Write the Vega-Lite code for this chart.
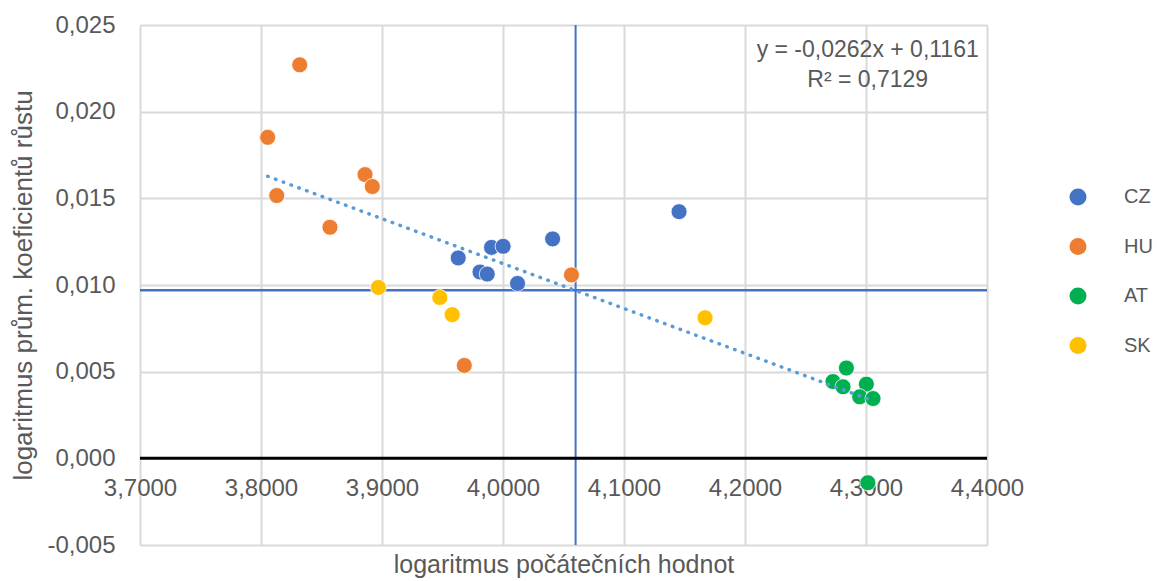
{
  "$schema": "https://vega.github.io/schema/vega-lite/v6.json",
  "width": 847,
  "height": 520,
  "autosize": {"type": "none"},
  "padding": {"left": 140, "top": 25, "right": 170, "bottom": 36},
  "background": "white",
  "config": {
    "view": {"stroke": null},
    "font": "Liberation Sans",
    "axis": {"labelFont": "Liberation Sans", "titleFont": "Liberation Sans"},
    "legend": {"labelFont": "Liberation Sans"}
  },
  "data": {
    "values": [
      {"country": "CZ", "x": 4.041, "y": 0.01266},
      {"country": "CZ", "x": 3.9905, "y": 0.01217},
      {"country": "CZ", "x": 4.0001, "y": 0.01223},
      {"country": "CZ", "x": 3.963, "y": 0.01156},
      {"country": "CZ", "x": 3.981, "y": 0.01075},
      {"country": "CZ", "x": 3.987, "y": 0.01063},
      {"country": "CZ", "x": 4.012, "y": 0.01009},
      {"country": "CZ", "x": 4.1455, "y": 0.01423},
      {"country": "HU", "x": 3.832, "y": 0.0227},
      {"country": "HU", "x": 3.8055, "y": 0.01852},
      {"country": "HU", "x": 3.886, "y": 0.01637},
      {"country": "HU", "x": 3.892, "y": 0.01568},
      {"country": "HU", "x": 3.813, "y": 0.01516},
      {"country": "HU", "x": 3.857, "y": 0.01333},
      {"country": "HU", "x": 4.0566, "y": 0.01058},
      {"country": "HU", "x": 3.968, "y": 0.00536},
      {"country": "AT", "x": 4.2838, "y": 0.00521},
      {"country": "AT", "x": 4.3003, "y": 0.00428},
      {"country": "AT", "x": 4.2727, "y": 0.00443},
      {"country": "AT", "x": 4.281, "y": 0.00413},
      {"country": "AT", "x": 4.2948, "y": 0.00355},
      {"country": "AT", "x": 4.3058, "y": 0.00345},
      {"country": "AT", "x": 4.3015, "y": -0.00141},
      {"country": "SK", "x": 3.897, "y": 0.00986},
      {"country": "SK", "x": 3.9478, "y": 0.00928},
      {"country": "SK", "x": 3.958, "y": 0.00829},
      {"country": "SK", "x": 4.167, "y": 0.00811}
    ]
  },
  "layer": [
    {
      "mark": {"type": "point", "opacity": 0},
      "encoding": {
        "x": {
          "field": "x", "type": "quantitative",
          "scale": {"domain": [3.7, 4.4], "nice": false, "zero": false},
          "axis": {
            "orient": "bottom",
            "offset": -87.5,
            "values": [3.7, 3.8, 3.9, 4.0, 4.1, 4.2, 4.3, 4.4],
            "labelExpr": "replace(format(datum.value, '.4f'), '.', ',')",
            "grid": true, "gridColor": "#d9d9d9", "gridWidth": 2,
            "domain": false, "ticks": false,
            "labelFontSize": 24, "labelColor": "#595959", "labelPadding": 19,
            "labelOverlap": false, "labelFlush": false,
            "title": "logaritmus počátečních hodnot",
            "titleFontSize": 25, "titleFontWeight": "normal", "titleColor": "#595959",
            "titlePadding": 52
          }
        },
        "y": {
          "field": "y", "type": "quantitative",
          "scale": {"domain": [-0.005, 0.025], "nice": false, "zero": false},
          "axis": {
            "values": [-0.005, 0, 0.005, 0.01, 0.015, 0.02, 0.025],
            "labelExpr": "replace(replace(format(datum.value, '.3f'), '.', ','), '−', '-')",
            "grid": true, "gridColor": "#d9d9d9", "gridWidth": 2,
            "domain": false, "ticks": false,
            "labelFontSize": 24, "labelColor": "#595959", "labelPadding": 25,
            "labelOverlap": false, "labelFlush": false,
            "title": "logaritmus prům. koeficientů růstu",
            "titleFontSize": 26, "titleFontWeight": "normal", "titleColor": "#595959",
            "titlePadding": 10
          }
        }
      }
    },
    {
      "data": {"values": [{}]},
      "mark": {"type": "rule", "color": "#4472C4", "strokeWidth": 2},
      "encoding": {"x": {"datum": 4.06, "type": "quantitative"}}
    },
    {
      "data": {"values": [{}]},
      "mark": {"type": "rule", "color": "#4472C4", "strokeWidth": 2.5},
      "encoding": {"y": {"datum": 0.0097, "type": "quantitative"}}
    },
    {
      "data": {"values": [{}]},
      "mark": {"type": "rule", "color": "#000000", "strokeWidth": 3},
      "encoding": {"y": {"datum": 0, "type": "quantitative"}}
    },
    {
      "mark": {"type": "circle", "size": 256, "opacity": 1, "stroke": "white", "strokeWidth": 0.8},
      "encoding": {
        "x": {"field": "x", "type": "quantitative"},
        "y": {"field": "y", "type": "quantitative"},
        "color": {
          "field": "country", "type": "nominal",
          "scale": {"domain": ["CZ", "HU", "AT", "SK"], "range": ["#4472C4", "#ED7D31", "#00B050", "#FFC000"]},
          "legend": {
            "orient": "none", "legendX": 928, "legendY": 162,
            "title": null, "labelFontSize": 20, "labelColor": "#595959",
            "symbolSize": 289, "symbolType": "circle", "symbolStrokeWidth": 0,
            "rowPadding": 29.5, "labelOffset": 36
          }
        }
      }
    },
    {
      "transform": [{"regression": "y", "on": "x"}],
      "mark": {"type": "line", "color": "#5B9BD5", "strokeWidth": 3.5, "strokeDash": [0.5, 7.8], "strokeCap": "round"},
      "encoding": {
        "x": {"field": "x", "type": "quantitative"},
        "y": {"field": "y", "type": "quantitative"}
      }
    },
    {
      "data": {"values": [{"label": "y = -0,0262x + 0,1161\nR² = 0,7129"}]},
      "mark": {"type": "text", "fontSize": 23, "color": "#595959", "align": "center", "baseline": "middle", "lineBreak": "\n", "lineHeight": 30},
      "encoding": {
        "x": {"datum": 4.3014, "type": "quantitative"},
        "y": {"datum": 0.02353, "type": "quantitative"},
        "text": {"field": "label"}
      }
    }
  ]
}
